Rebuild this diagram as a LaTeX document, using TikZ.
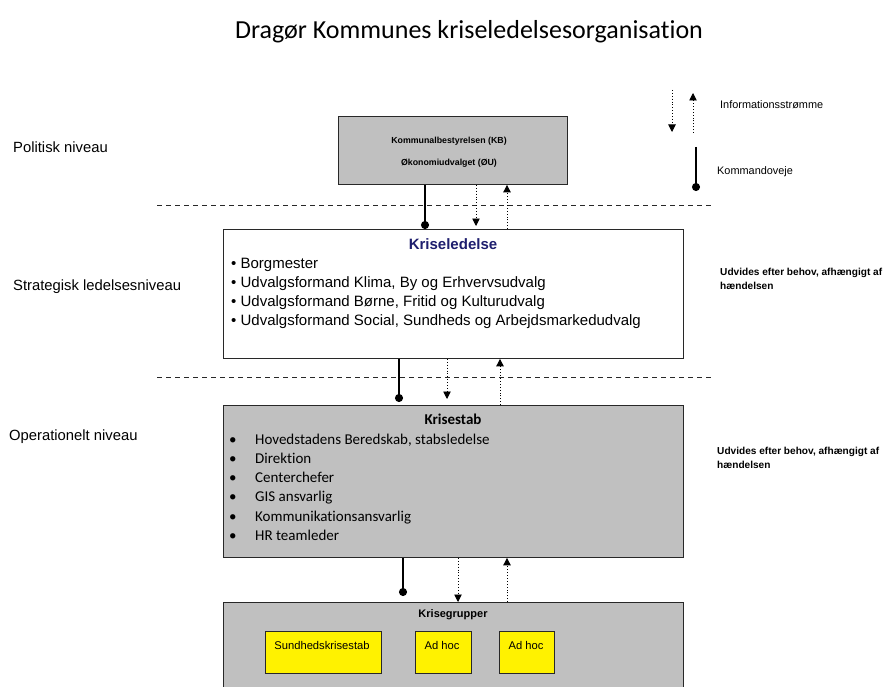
\documentclass[tikz,border=0pt]{standalone}
\usepackage{fontspec}
\setmainfont{Liberation Sans}
\newfontfamily\calib[Ligatures={NoCommon}]{Carlito}
\usetikzlibrary{arrows.meta}
\definecolor{boxgray}{RGB}{192,192,192}
\definecolor{navy}{RGB}{30,30,110}
\definecolor{edge}{RGB}{40,40,40}
\tikzset{
  lvl/.style={anchor=west, inner sep=0pt, font=\fontsize{14.8}{17}\selectfont},
  panel/.style={draw=edge, line width=0.9pt, anchor=north west, inner sep=0pt},
  cmdline/.style={line width=1.6pt, -{Circle[length=8pt,width=8pt]}},
  infoarrow/.style={dotted, line width=0.9pt, -{Triangle[length=7.5pt,width=7.5pt]}},
  sep/.style={dashed, dash pattern=on 5pt off 4pt, line width=0.8pt, draw=edge},
  note/.style={anchor=west, inner sep=0pt, align=left, font=\bfseries\fontsize{10.1}{13.5}\selectfont},
  small/.style={anchor=west, inner sep=0pt, font=\fontsize{10.9}{12}\selectfont},
  yel/.style={draw=edge, line width=0.8pt, fill=yellow, anchor=north west, inner sep=0pt},
  klitem/.style={anchor=base west, inner sep=0pt, font=\fontsize{15}{18}\selectfont},
  ksitem/.style={anchor=base west, inner sep=0pt, font=\calib\fontsize{15}{18}\selectfont},
  yeltext/.style={inner sep=0pt, font=\fontsize{11.2}{13}\selectfont},
}
\begin{document}
\begin{tikzpicture}[x=1pt,y=-1pt]
\useasboundingbox (0,0) rectangle (885,687);
% title
\node[inner sep=0pt, font=\calib\fontsize{26}{30}\selectfont] (title) at (469,32) {Dragør Kommunes kriseledelsesorganisation};
% level labels
\node[lvl] (l1) at (13,147) {Politisk niveau};
\node[lvl] (l2) at (13,287) {Strategisk ledelsesniveau};
\node[lvl] (l3) at (9,437) {Operationelt niveau};
% separators
\coordinate (s1a) at (157,205); \coordinate (s1b) at (712,205);
\coordinate (s2a) at (157,377); \coordinate (s2b) at (712,377);
\draw[sep] (s1a) -- (s1b);
\draw[sep] (s2a) -- (s2b);
% KB box
\node[panel, fill=boxgray, minimum width=229pt, minimum height=68pt] (kb) at (338,116) {};
\node[inner sep=0pt, font=\bfseries\fontsize{8.8}{10}\selectfont] (kbt1) at (449,141) {Kommunalbestyrelsen (KB)};
\node[inner sep=0pt, font=\bfseries\fontsize{8.8}{10}\selectfont] (kbt2) at (449,163) {Økonomiudvalget (ØU)};
% Kriseledelse box
\node[panel, fill=white, minimum width=460pt, minimum height=129pt] (kl) at (223,229) {};
\node[inner sep=0pt, text=navy, font=\bfseries\fontsize{15}{17}\selectfont] (klt) at (453,244) {Kriseledelse};
\foreach \t [count=\i] in {Borgmester, {Udvalgsformand Klima, By og Erhvervsudvalg}, {Udvalgsformand Børne, Fritid og Kulturudvalg}, {Udvalgsformand Social, Sundheds og Arbejdsmarkedudvalg}}{
  \node[klitem] (kli\i) at (231,{268.5+19.1*(\i-1)}) {• \t};
}
% Krisestab box
\node[panel, fill=boxgray, minimum width=460pt, minimum height=152pt] (ks) at (223,405) {};
\node[inner sep=0pt, font=\calib\bfseries\fontsize{15}{17}\selectfont] (kst) at (453,419) {Krisestab};
\foreach \t [count=\i] in {{Hovedstadens Beredskab, stabsledelse}, Direktion, Centerchefer, GIS ansvarlig, Kommunikationsansvarlig, HR teamleder}{
  \node[ksitem] (ksb\i) at (229,{444+19.3*(\i-1)}) {•};
  \node[ksitem] (ksi\i) at (255,{444+19.3*(\i-1)}) {\t};
}
% Krisegrupper box
\node[panel, fill=boxgray, minimum width=460pt, minimum height=100pt] (kg) at (223,602) {};
\node[inner sep=0pt, font=\bfseries\fontsize{11}{13}\selectfont] (kgt) at (453,615) {Krisegrupper};
\node[yel, minimum width=116pt, minimum height=42pt] (y1) at (265,631) {};
\node[yel, minimum width=56pt, minimum height=42pt] (y2) at (415,631) {};
\node[yel, minimum width=55pt, minimum height=42pt] (y3) at (499,631) {};
\node[yeltext] (y1t) at (322,645) {Sundhedskrisestab};
\node[yeltext] (y2t) at (442,645) {Ad hoc};
\node[yeltext] (y3t) at (526,645) {Ad hoc};
% connectors KB <-> Kriseledelse
\draw[cmdline] (kb.south -| 425,0) -- (kl.north -| 425,0);
\draw[infoarrow, shorten >=3pt] (kb.south -| 476,0) -- (kl.north -| 476,0);
\draw[infoarrow] (kl.north -| 507,0) -- (kb.south -| 507,0);
% Kriseledelse <-> Krisestab
\draw[cmdline, shorten >=3pt] (kl.south -| 399,0) -- (ks.north -| 399,0);
\draw[infoarrow, shorten >=6pt] (kl.south -| 447,0) -- (ks.north -| 447,0);
\draw[infoarrow] (ks.north -| 500,0) -- (kl.south -| 500,0);
% Krisestab <-> Krisegrupper
\draw[cmdline, shorten >=6pt] (ks.south -| 403,0) -- (kg.north -| 403,0);
\draw[infoarrow] (ks.south -| 458,0) -- (kg.north -| 458,0);
\draw[infoarrow] (kg.north -| 507,0) -- (ks.south -| 507,0);
% legend
\coordinate (ld1) at (672,90); \coordinate (ld2) at (672,132);
\coordinate (lu1) at (693,133); \coordinate (lu2) at (693,93);
\coordinate (lc1) at (696,147); \coordinate (lc2) at (696,191);
\draw[infoarrow] (ld1) -- (ld2);
\draw[infoarrow] (lu1) -- (lu2);
\draw[cmdline] (lc1) -- (lc2);
\node[small] (info) at (720,105) {Informationsstrømme};
\node[small] (cmd) at (717,172) {Kommandoveje};
% notes
\node[note] (n1) at (720,279) {Udvides efter behov, afhængigt af\\hændelsen};
\node[note] (n2) at (717,458) {Udvides efter behov, afhængigt af\\hændelsen};
\end{tikzpicture}
\end{document}
